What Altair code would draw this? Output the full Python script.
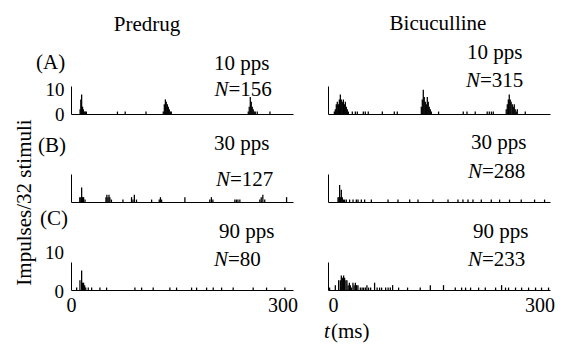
import altair as alt
import pandas as pd

FONT = "Liberation Serif, Times New Roman, serif"
BIN = 1.8          # bin width (ms)
XMAX = 315
YMAX = 11.5
W, H = 222, 28

Y_TICKS = [0, 10]
X_TICKS = [0, 300]

# ---- data: bin start times (ms) and impulse counts -------------------------
a_pre_t = [12, 13, 14.2, 15.5, 16.6, 18, 19.4, 20.9, 65, 76, 105.5,
           130, 131.5, 133, 134.3, 135.8, 137.2, 138.6, 140, 141.4,
           250.6, 252, 253.5, 254.9, 256.3, 257.7, 259.1, 260.6, 263.4, 281.4]
a_pre_n = [2, 6, 8, 3, 2, 1, 1, 1, 1, 1, 1,
           1, 4, 6, 5, 4, 3, 2, 1, 1,
           1, 3, 7, 5, 3, 2, 1, 1, 1, 1]

a_bic_t = [8.1, 9.5, 10.9, 12.3, 13.8, 15.2, 16.6, 18, 19.4, 20.9, 22.3, 23.7, 25.1, 26.5, 28,
           33.6, 37.9, 40.7, 49.2, 52, 56.2, 76.2, 93.2, 97.4,
           131.5, 132.9, 134.3, 135.7, 137.2, 138.6, 140, 141.4, 142.8, 144.3, 145.7,
           156, 191, 196.3, 208, 225, 228, 231, 233.6,
           252, 253.5, 255, 256.3, 257.7, 259, 260.6, 262, 263.4, 264.8, 266.2, 267.7, 279]
a_bic_n = [1, 2, 4, 5, 4, 6, 8, 6, 5, 6, 4, 5, 3, 2, 1,
           1, 1, 1, 1, 1, 1, 1, 1, 1,
           3, 6, 10, 7, 5, 4, 7, 5, 3, 2, 1,
           1, 1, 1, 1, 1, 1, 1, 1,
           2, 4, 6, 8, 6, 5, 4, 3, 4, 2, 1, 2, 1]

b_pre_t = [11.5, 13, 14.2, 15.5, 17, 19,
           48.7, 50, 51.5, 53, 54.3, 56.5, 72.8,
           85, 87, 89, 92, 113.5, 124.3, 126, 127.7, 160.7,
           196, 198.3, 200.4, 231.6, 233.8, 236, 238.7,
           267, 269, 271.3, 274, 305]
b_pre_n = [2, 2, 6, 2, 2, 1,
           2, 3, 2, 3, 2, 1, 1,
           2, 1, 3, 1, 1, 1, 2, 1, 2,
           1, 2, 1, 1, 1, 1, 1,
           1, 2, 3, 1, 2]

b_bic_t = [13.3, 14.5, 15.6, 16.6, 18, 19.4, 20.9, 22.7,
           25.1, 29.8, 34.6, 39.3, 41.7, 46.4, 51.1,
           60.6, 84.3, 98.4, 115, 126.8, 148, 169.4, 183.5, 190.6, 197.7, 204.8,
           216.6, 230.8, 242.6, 256.7, 273.3, 292.2, 306.4]
b_bic_n = [2, 2, 7, 2, 5, 2, 1, 1,
           1, 1, 1, 1, 1, 1, 1,
           1, 1, 1, 1, 1, 1, 1, 1, 1, 1, 1,
           1, 1, 1, 1, 1, 1, 1]

c_pre_t = [7.1, 11.8, 14.2, 15.5, 17, 18.5, 20, 23.6, 28.4, 40.1, 49.6,
           89.8, 99.3, 115.7, 139.4, 148.9, 170.2, 177.3, 191.5, 200.9, 212.8,
           229.2, 257.6, 276.6, 302.6]
c_pre_n = [1, 4, 8, 3, 3, 2, 1, 1, 1, 1, 1,
           1, 1, 1, 1, 1, 1, 1, 1, 1, 1,
           1, 1, 1, 1]

c_bic_t = [1.4, 9.5, 14.2, 16.6, 18, 19.9, 21.3, 22.7, 24.5, 26, 27.7, 29.4, 30.8, 32.2,
           34.5, 36.2, 37.9, 39.7, 41.6, 45, 47.5, 49.6, 52.1, 54.3, 56.7, 59.6, 65.2,
           68.8, 72.3, 75.2, 80.9, 84.4, 87.5, 90.8, 99.3, 112, 130, 144.3, 163, 179.7,
           188.7, 194.3, 201.4, 212.8, 222.3, 236.9, 245.4, 251, 255.3, 265.2, 273.8,
           283.7, 293.6, 302.1, 312]
c_bic_n = [1, 2, 4, 4, 6, 5, 6, 5, 4, 4, 2, 3, 2, 1,
           3, 2, 3, 2, 2, 1, 1, 1, 1, 2, 1, 1, 3,
           1, 1, 1, 1, 1, 1, 2, 1, 1, 1, 2, 2, 1,
           1, 1, 1, 1, 1, 1, 2, 1, 1, 1, 1,
           1, 1, 1, 1]

col_titles = ["Predrug", "Bicuculline"]
row_tags = ["(A)", "(B)", "(C)"]
rates = ["10 pps", "30 pps", "90 pps"]
n_pre = ["=156", "=127", "=80"]
n_bic = ["=315", "=288", "=233"]
y_title = "Impulses/32 stimuli"
c_tick_labels = ["10", "0"]


def txt(s, x, y, align="left", baseline="alphabetic", italic=False, angle=0, size=21):
    kw = dict(font=FONT, fontSize=size, color="black", align=align, baseline=baseline)
    if italic:
        kw["fontStyle"] = "italic"
    if angle:
        kw["angle"] = angle
    return alt.Chart(pd.DataFrame({"s": [s]})).mark_text(**kw).encode(
        text="s:N", x=alt.value(x), y=alt.value(y))


def panel(times, counts, show_y, show_x, flush, texts):
    df = pd.DataFrame({"t": times, "n": counts})
    df["t2"] = df["t"] + BIN
    xaxis = alt.Axis(values=X_TICKS, labels=show_x, ticks=False, grid=False, title=None,
                     domainColor="black", domainWidth=1, labelFont=FONT, labelFontSize=20,
                     labelColor="black", labelPadding=5, labelFlush=flush)
    yaxis = alt.Axis(values=Y_TICKS, labels=show_y, ticks=False, grid=False, title=None,
                     domainColor="black", domainWidth=1, labelFont=FONT, labelFontSize=19,
                     labelColor="black", labelPadding=7, labelFlush=False,
                     labelBaseline="middle", labelOverlap=False)
    bars = alt.Chart(df).mark_rect(color="black").encode(
        x=alt.X("t:Q", scale=alt.Scale(domain=[0, XMAX], nice=False), axis=xaxis),
        x2="t2:Q",
        y=alt.Y("n:Q", scale=alt.Scale(domain=[0, YMAX], nice=False), axis=yaxis),
        y2=alt.datum(0),
    )
    return alt.layer(bars, *texts).properties(width=W, height=H)


pa_l = panel(a_pre_t, a_pre_n, True, False, False, [
    txt(col_titles[0], 76, -55.5, align="center"),
    txt(row_tags[0], -35, -17),
    txt(rates[0], 143, -16.5),
    txt("N", 157.5, 10.3, align="right", italic=True),
    txt(n_pre[0], 157.5, 10.3),
])
pa_r = panel(a_bic_t, a_bic_n, False, False, True, [
    txt(col_titles[1], 110, -56, align="center"),
    txt(rates[0], 139, -27),
    txt("N", 152, 0.5, align="right", italic=True),
    txt(n_bic[0], 152, 0.5),
])
pb_l = panel(b_pre_t, b_pre_n, False, False, False, [
    txt(row_tags[1], -33, -22),
    txt(rates[1], 143, -24.3),
    txt("N", 159, 11.5, align="right", italic=True),
    txt(n_pre[1], 159, 11.5),
    txt(y_title, -46, 28.5, align="center", baseline="middle", angle=270),
])
pb_r = panel(b_bic_t, b_bic_n, False, False, True, [
    txt(rates[1], 143, -25),
    txt("N", 154, 4, align="right", italic=True),
    txt(n_bic[1], 154, 4),
])
pc_l = panel(c_pre_t, c_pre_n, False, True, False, [
    txt(c_tick_labels[0], -7, -9, align="right", baseline="middle", size=19),
    txt(c_tick_labels[1], -7, 30, align="right", baseline="middle", size=19),
    txt(row_tags[2], -31, -37),
    txt(rates[2], 148, -24),
    txt("N", 157, 4.3, align="right", italic=True),
    txt(n_pre[2], 157, 4.3),
    txt("t", 253, 76, italic=True),
    txt("(ms)", 260, 76),
])
pc_r = panel(c_bic_t, c_bic_n, False, True, True, [
    txt(rates[2], 145, -24),
    txt("N", 154, 4, align="right", italic=True),
    txt(n_bic[2], 154, 4),
])

chart = alt.concat(
    pa_l, pa_r, pb_l, pb_r, pc_l, pc_r,
    columns=2,
    spacing=alt.RowColnumber(row=60, column=35),
    bounds="flush",
).properties(
    padding={"left": 5, "top": 5, "right": 5, "bottom": 5},
).configure_view(strokeWidth=0)

chart.save("out.html", embed_options={"renderer": "svg", "actions": False})
